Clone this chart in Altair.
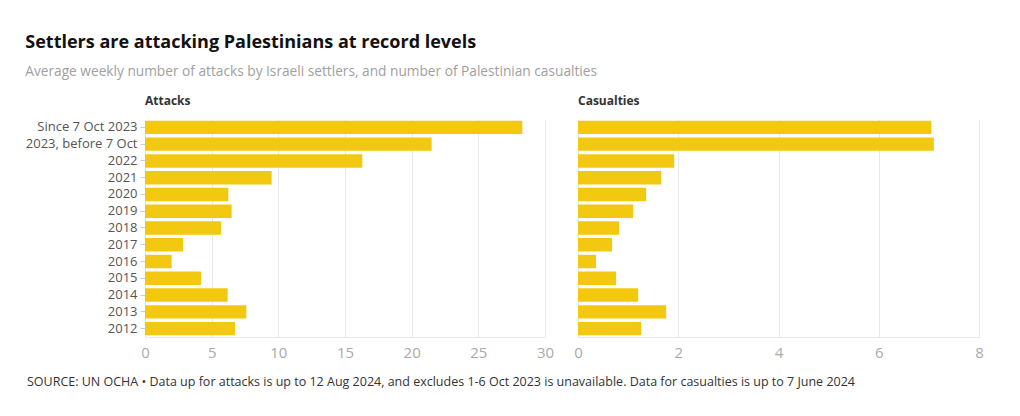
import altair as alt
import pandas as pd

categories = ["Since 7 Oct 2023", "2023, before 7 Oct", "2022", "2021", "2020", "2019",
              "2018", "2017", "2016", "2015", "2014", "2013", "2012"]
attacks = [28.3, 21.5, 16.3, 9.5, 6.25, 6.5, 5.7, 2.85, 2.0, 4.2, 6.2, 7.6, 6.75]
casualties = [7.05, 7.1, 1.92, 1.66, 1.36, 1.1, 0.82, 0.68, 0.36, 0.76, 1.2, 1.76, 1.26]
attack_ticks = [0, 5, 10, 15, 20, 25, 30]
casualty_ticks = [0, 2, 4, 6, 8]

title = "Settlers are attacking Palestinians at record levels"
subtitle = "Average weekly number of attacks by Israeli settlers, and number of Palestinian casualties"
source = ("SOURCE: UN OCHA \u2022 Data up for attacks is up to 12 Aug 2024, and excludes 1-6 Oct 2023 "
          "is unavailable. Data for casualties is up to 7 June 2024")

df = pd.DataFrame({"cat": categories, "attacks": attacks, "casualties": casualties})

FONT = "Open Sans"
YELLOW = "#F2C811"
H = 218
noview = alt.ViewBackground(strokeOpacity=0, strokeWidth=0)

def xaxis(vals):
    return alt.Axis(values=vals, grid=True, gridColor="#e8e8e8", domain=True,
                    domainColor="#e8e8e8", ticks=False, labelFontSize=15,
                    labelColor="#aaaaaa", labelPadding=8, title=None, labelFont=FONT,
                    labelFlush=False)

yscale = alt.Scale(paddingInner=0.2, paddingOuter=0.1)

left_bars = alt.Chart(df).mark_bar(color=YELLOW).encode(
    x=alt.X("attacks:Q", scale=alt.Scale(domain=[0, 30], nice=False), axis=xaxis(attack_ticks)),
    y=alt.Y("cat:N", sort=categories, scale=yscale,
            axis=alt.Axis(title=None, domain=False, ticks=True, tickColor="#cccccc", tickSize=5,
                          labelFontSize=13, labelColor="#555555", labelPadding=3, labelFont=FONT)),
)

source_text = alt.Chart(pd.DataFrame({"t": [source]})).mark_text(
    align="left", baseline="middle", fontSize=12.5, color="#333333", font=FONT
).encode(text="t:N", x=alt.value(-118), y=alt.value(H + 45))

left = alt.layer(left_bars, source_text).properties(
    width=400, height=H, view=noview,
    title=alt.TitleParams("Attacks", anchor="start", frame="group", fontSize=12,
                          fontWeight="bold", color="#333333", offset=11, font=FONT),
)

right = alt.Chart(df).mark_bar(color=YELLOW).encode(
    x=alt.X("casualties:Q", scale=alt.Scale(domain=[0, 8], nice=False), axis=xaxis(casualty_ticks)),
    y=alt.Y("cat:N", sort=categories, scale=yscale, axis=None),
).properties(
    width=401, height=H, view=noview,
    title=alt.TitleParams("Casualties", anchor="start", frame="group", fontSize=12,
                          fontWeight="bold", color="#333333", offset=11, font=FONT),
)

chart = alt.hconcat(left, right, spacing=33, bounds="flush").properties(
    title=alt.TitleParams(title, subtitle=subtitle, anchor="start", fontSize=18,
                          fontWeight="bold", color="#111111", font=FONT,
                          subtitleFont=FONT, subtitleFontSize=13.7, subtitleColor="#a0a0a0",
                          subtitlePadding=13, offset=16),
    padding={"left": 17, "top": 26, "right": 10, "bottom": 10},
    background="white",
).configure_view(strokeOpacity=0, strokeWidth=0)

chart.save("out.html", embed_options={"renderer": "svg", "actions": False})
